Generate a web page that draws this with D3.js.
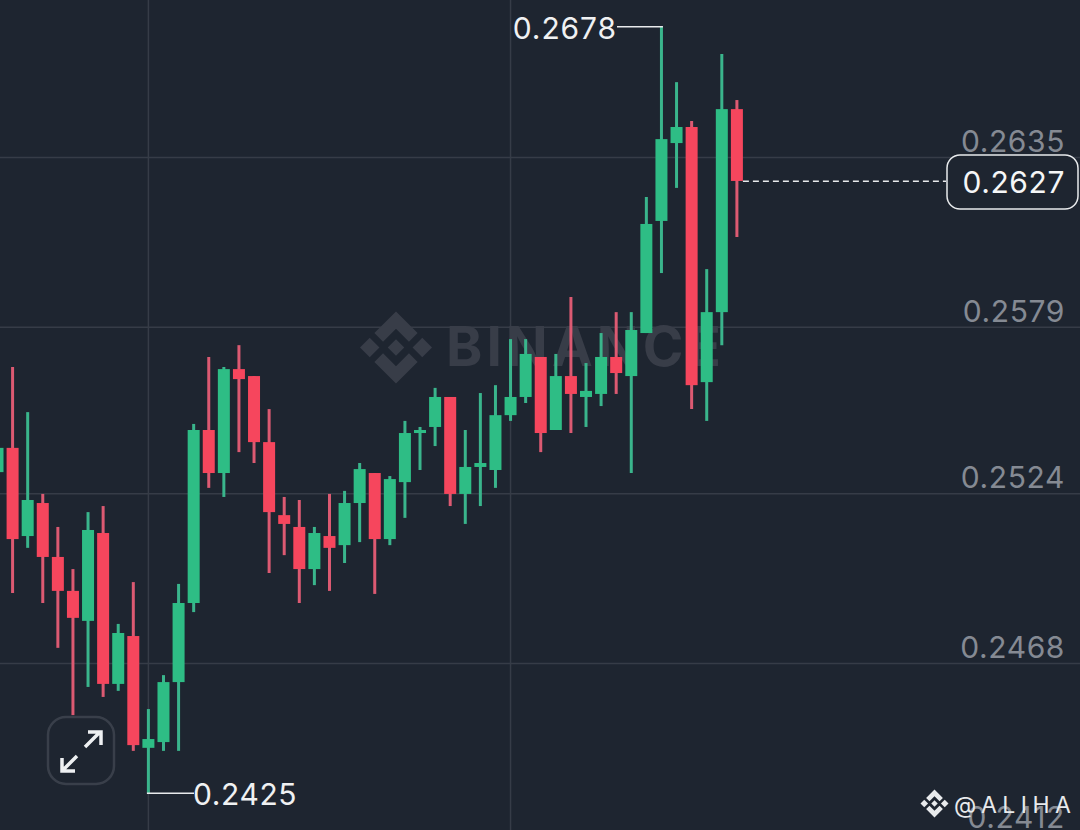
<!DOCTYPE html>
<html>
<head>
<meta charset="utf-8">
<script src="https://cdn.jsdelivr.net/npm/d3@7"></script>
<style>
	html, body { margin: 0; padding: 0; background: #1e2530; }
	svg { display: block; }
	text { font-family: Inter, "Noto Sans", sans-serif; }
</style>
</head>
<body>
<div id="chart"></div>
<script>
// values, one entry per candle
const opens = [
	0.25310, 0.25390, 0.25099, 0.25208, 0.25030, 0.24918, 0.24819, 0.25109, 0.24611, 0.24769,
	0.24400, 0.24419, 0.24617, 0.24878, 0.25449, 0.25307, 0.25650, 0.25627, 0.25409, 0.25168,
	0.25129, 0.24990, 0.25099, 0.25069, 0.25208, 0.25307, 0.25089, 0.25277, 0.25439, 0.25459,
	0.25558, 0.25238, 0.25327, 0.25317, 0.25498, 0.25558, 0.25690, 0.25449, 0.25627, 0.25558,
	0.25568, 0.25690, 0.25627, 0.25769, 0.26139, 0.26396, 0.26449, 0.25607, 0.25838, 0.26508
];
const closes = [
	0.25390, 0.25089, 0.25218, 0.25030, 0.24918, 0.24829, 0.25119, 0.24611, 0.24779, 0.24409,
	0.24429, 0.24617, 0.24878, 0.25449, 0.25307, 0.25650, 0.25617, 0.25409, 0.25178, 0.25139,
	0.24990, 0.25109, 0.25060, 0.25208, 0.25320, 0.25089, 0.25287, 0.25439, 0.25449, 0.25558,
	0.25238, 0.25327, 0.25340, 0.25498, 0.25558, 0.25700, 0.25439, 0.25627, 0.25568, 0.25578,
	0.25690, 0.25637, 0.25779, 0.26129, 0.26409, 0.26449, 0.25597, 0.25838, 0.26508, 0.26271
];
const highs = [
	0.25390, 0.25657, 0.25508, 0.25238, 0.25129, 0.24990, 0.25178, 0.25198, 0.24809, 0.24947,
	0.24528, 0.24640, 0.24941, 0.25469, 0.25690, 0.25657, 0.25729, 0.25627, 0.25518, 0.25228,
	0.25218, 0.25129, 0.25238, 0.25248, 0.25340, 0.25307, 0.25297, 0.25479, 0.25459, 0.25588,
	0.25558, 0.25449, 0.25571, 0.25597, 0.25749, 0.25749, 0.25690, 0.25700, 0.25888, 0.25670,
	0.25769, 0.25838, 0.25838, 0.26218, 0.26779, 0.26597, 0.26469, 0.25980, 0.26690, 0.26538
];
const lows = [
	0.25310, 0.24911, 0.25060, 0.24878, 0.24730, 0.24508, 0.24601, 0.24568, 0.24588, 0.24390,
	0.24251, 0.24390, 0.24390, 0.24848, 0.25258, 0.25228, 0.25376, 0.25340, 0.24977, 0.25036,
	0.24878, 0.24937, 0.24918, 0.25010, 0.25079, 0.24908, 0.25069, 0.25159, 0.25317, 0.25396,
	0.25198, 0.25139, 0.25198, 0.25258, 0.25479, 0.25538, 0.25376, 0.25449, 0.25439, 0.25459,
	0.25528, 0.25568, 0.25307, 0.25769, 0.25967, 0.26248, 0.25518, 0.25479, 0.25729, 0.26086
];
const priceTicks = [0.2635, 0.2579, 0.2524, 0.2468, 0.2412];
const gridCandles = [10, 34];
const highLabel = { index: 44, value: 0.2678 };
const lowLabel = { index: 10, value: 0.2425 };
const lastPrice = 0.2627;
const watermark = "BINANCE";
const author = "@ALIHA";

const width = 1080, height = 830;
const bg = "#1e2530", grid = "#363c47", up = "#2ebd85", down = "#f6465d";
const upWick = "#3ab58c", downWick = "#dc5a72";
const bodyWidth = 12, wickWidth = 3;
const labelFont = "30px", labelSpacing = "0.6px";

var svg = d3.select("#chart").append("svg")
	.attr("width", width)
	.attr("height", height);

svg.append("rect").attr("width", width).attr("height", height).attr("fill", bg);

var x = d3.scaleLinear().domain([0, 49]).range([-2.5, 736.9]);
var y = d3.scaleLinear().domain([0.2635, 0.2468]).range([157, 663]);
var fmt = d3.format(".4f");

// grid
svg.append("g").selectAll("line")
	.data(gridCandles)
	.enter().append("line")
	.attr("x1", function (d) { return x(d); })
	.attr("x2", function (d) { return x(d); })
	.attr("y1", 0)
	.attr("y2", height)
	.attr("stroke", grid)
	.attr("stroke-width", 1.5);

var axis = d3.axisRight(y)
	.tickValues(priceTicks)
	.tickFormat(fmt)
	.tickSize(width)
	.tickPadding(0);

var axisG = svg.append("g").call(axis);
axisG.select(".domain").remove();
axisG.selectAll(".tick line").attr("stroke", grid).attr("stroke-width", 1.5);
axisG.selectAll(".tick text")
	.attr("x", 1065)
	.attr("dy", -5.5)
	.attr("text-anchor", "end")
	.attr("fill", "#858a93")
	.style("font-family", "Inter, sans-serif")
	.style("font-size", labelFont)
	.style("letter-spacing", labelSpacing);

// binance mark: four outer pieces and a centre diamond, unit size
function drawLogo(parent, cx, cy, r, color) {
	var pieces = [
		[[0, -1], [0.6, -0.4], [0.36, -0.16], [0, -0.52], [-0.36, -0.16], [-0.6, -0.4]],
		[[0, 1], [0.6, 0.4], [0.36, 0.16], [0, 0.52], [-0.36, 0.16], [-0.6, 0.4]],
		[[0, -0.23], [0.23, 0], [0, 0.23], [-0.23, 0]],
		[[-0.73, -0.27], [-0.46, 0], [-0.73, 0.27], [-1, 0]],
		[[0.73, -0.27], [1, 0], [0.73, 0.27], [0.46, 0]]
	];
	var line = d3.line().x(function (d) { return cx + d[0] * r; }).y(function (d) { return cy + d[1] * r; });
	parent.append("g").selectAll("path")
		.data(pieces)
		.enter().append("path")
		.attr("d", function (d) { return line(d) + "Z"; })
		.attr("fill", color);
}

drawLogo(svg, 396, 347.5, 36, "#383d48");
svg.append("text")
	.attr("x", 446)
	.attr("y", 366)
	.attr("fill", "#383d48")
	.style("font-size", "55px")
	.style("font-weight", 700)
	.style("letter-spacing", "4px")
	.text(watermark);

// candles
var candles = svg.append("g").selectAll("g")
	.data(opens.map(function (o, i) { return i; }))
	.enter().append("g");

candles.append("line")
	.attr("x1", function (i) { return x(i); })
	.attr("x2", function (i) { return x(i); })
	.attr("y1", function (i) { return y(highs[i]); })
	.attr("y2", function (i) { return y(lows[i]); })
	.attr("stroke", function (i) { return closes[i] >= opens[i] ? upWick : downWick; })
	.attr("stroke-width", wickWidth);

candles.append("rect")
	.attr("x", function (i) { return x(i) - bodyWidth / 2; })
	.attr("width", bodyWidth)
	.attr("y", function (i) { return y(Math.max(opens[i], closes[i])); })
	.attr("height", function (i) { return Math.abs(y(opens[i]) - y(closes[i])); })
	.attr("fill", function (i) { return closes[i] >= opens[i] ? up : down; });

// high and low callouts
svg.append("line")
	.attr("x1", x(highLabel.index) + 1.5).attr("x2", 617)
	.attr("y1", y(highLabel.value)).attr("y2", y(highLabel.value))
	.attr("stroke", "#e8eaec").attr("stroke-width", 1.5);
svg.append("text")
	.attr("x", 617).attr("y", y(highLabel.value) + 12)
	.attr("text-anchor", "end")
	.attr("fill", "#f0f1f2")
	.style("font-size", labelFont)
	.style("letter-spacing", "0.9px")
	.text(fmt(highLabel.value));

svg.append("line")
	.attr("x1", x(lowLabel.index) - 1.5).attr("x2", 194)
	.attr("y1", y(lowLabel.value)).attr("y2", y(lowLabel.value))
	.attr("stroke", "#e8eaec").attr("stroke-width", 1.5);
svg.append("text")
	.attr("x", 193).attr("y", y(lowLabel.value) + 12)
	.attr("fill", "#f0f1f2")
	.style("font-size", labelFont)
	.style("letter-spacing", labelSpacing)
	.text(fmt(lowLabel.value));

// last price
svg.append("line")
	.attr("x1", x(49) + bodyWidth / 2).attr("x2", 946)
	.attr("y1", y(lastPrice)).attr("y2", y(lastPrice))
	.attr("stroke", "#e8eaec").attr("stroke-width", 1.5)
	.attr("stroke-dasharray", "6 4");
svg.append("rect")
	.attr("x", 947).attr("y", 155).attr("width", 131).attr("height", 54).attr("rx", 13)
	.attr("fill", bg).attr("stroke", "#e8eaec").attr("stroke-width", 1.5);
svg.append("text")
	.attr("x", 1065).attr("y", y(lastPrice) + 12)
	.attr("text-anchor", "end")
	.attr("fill", "#f5f6f7")
	.style("font-size", labelFont)
	.style("letter-spacing", labelSpacing)
	.text(fmt(lastPrice));

// expand button
var btn = svg.append("g");
btn.append("rect")
	.attr("x", 48).attr("y", 717).attr("width", 66).attr("height", 67).attr("rx", 18)
	.attr("fill", bg).attr("stroke", "#393f4a").attr("stroke-width", 2.5);
btn.append("path")
	.attr("d", "M85 747L100 732M88 732H101V745M77 756L62 771M62 758V771H75")
	.attr("fill", "none").attr("stroke", "#eef0f2").attr("stroke-width", 3.5);

// author tag
drawLogo(svg, 934.5, 803.5, 14, "#e8eaec");
svg.append("text")
	.attr("x", 954).attr("y", 813)
	.attr("fill", "#e8eaec")
	.style("font-size", "23px")
	.style("letter-spacing", "5.5px")
	.text(author);
</script>
</body>
</html>
